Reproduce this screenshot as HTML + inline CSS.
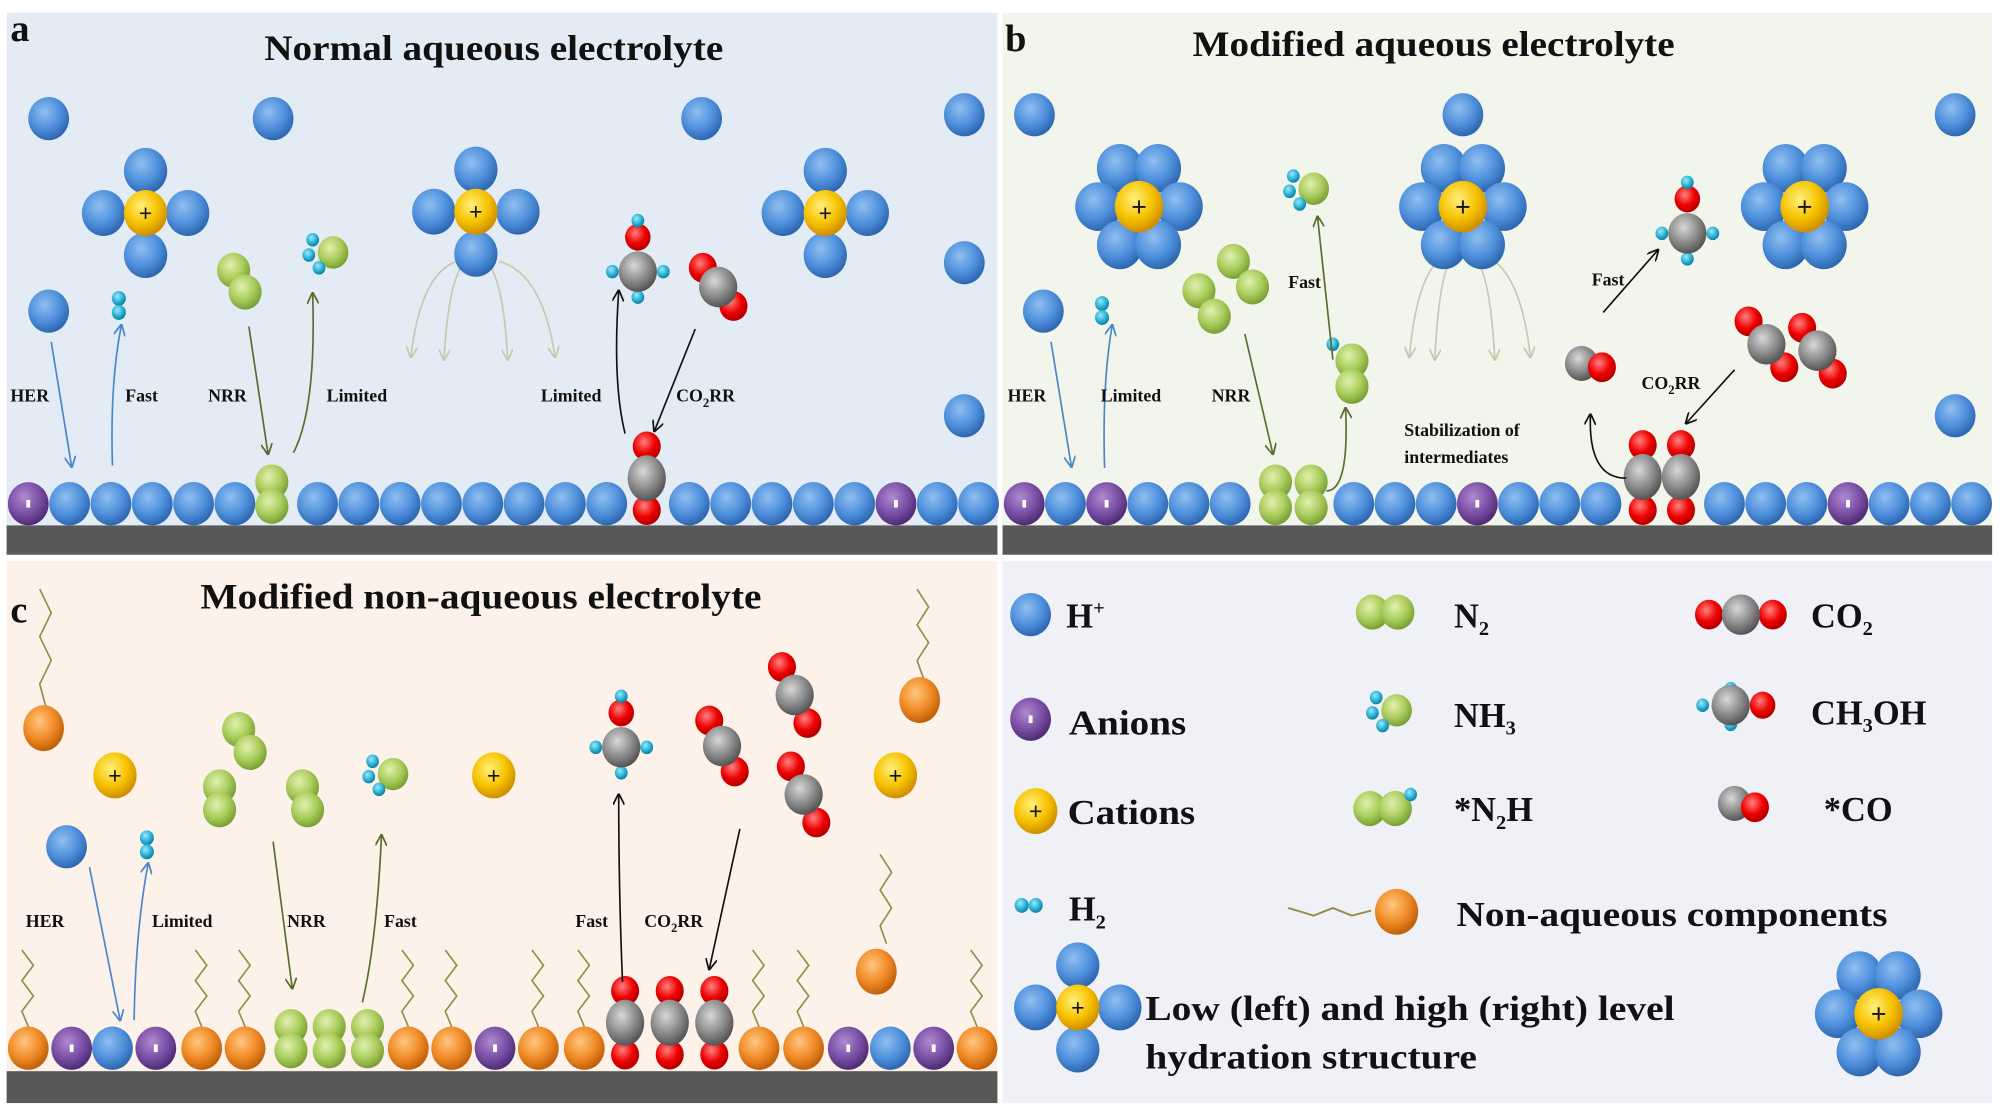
<!DOCTYPE html>
<html><head><meta charset="utf-8"><style>
html,body{margin:0;padding:0;background:#fff;width:2000px;height:1112px;overflow:hidden}
svg{display:block}
text{font-family:"Liberation Serif",serif;font-weight:bold;fill:#111}
</style></head><body>
<svg id="s" width="2000" height="1112" viewBox="0 0 1568 872" xmlns="http://www.w3.org/2000/svg">
<defs>
<radialGradient id="gB" cx="40%" cy="35%" r="65%"><stop offset="0" stop-color="#8fbff0"/><stop offset=".6" stop-color="#4f90dc"/><stop offset="1" stop-color="#2e67b0"/></radialGradient>
<radialGradient id="gP" cx="40%" cy="35%" r="65%"><stop offset="0" stop-color="#b08ad0"/><stop offset=".6" stop-color="#7a4fa5"/><stop offset="1" stop-color="#4f2c75"/></radialGradient>
<radialGradient id="gY" cx="40%" cy="35%" r="65%"><stop offset="0" stop-color="#fff07a"/><stop offset=".6" stop-color="#f6c200"/><stop offset="1" stop-color="#d08e00"/></radialGradient>
<radialGradient id="gG" cx="40%" cy="35%" r="65%"><stop offset="0" stop-color="#e2f0b0"/><stop offset=".6" stop-color="#a8cc5a"/><stop offset="1" stop-color="#7a9f35"/></radialGradient>
<radialGradient id="gR" cx="40%" cy="35%" r="65%"><stop offset="0" stop-color="#ff8080"/><stop offset=".6" stop-color="#ee0000"/><stop offset="1" stop-color="#b00000"/></radialGradient>
<radialGradient id="gK" cx="40%" cy="35%" r="65%"><stop offset="0" stop-color="#d8d8d8"/><stop offset=".6" stop-color="#8a8a8a"/><stop offset="1" stop-color="#555"/></radialGradient>
<radialGradient id="gO" cx="40%" cy="35%" r="65%"><stop offset="0" stop-color="#ffc780"/><stop offset=".6" stop-color="#f08a25"/><stop offset="1" stop-color="#c0600a"/></radialGradient>
<radialGradient id="gC" cx="40%" cy="35%" r="65%"><stop offset="0" stop-color="#9ee8f8"/><stop offset=".6" stop-color="#29b3d8"/><stop offset="1" stop-color="#0e7fa0"/></radialGradient>
<marker id="ab" viewBox="0 0 10 10" refX="9" refY="5" markerWidth="7" markerHeight="7" orient="auto-start-reverse"><path d="M0,0 L10,5 L0,10" fill="none" stroke="#4a86c8" stroke-width="1.5"/></marker>
<marker id="ag" viewBox="0 0 10 10" refX="9" refY="5" markerWidth="7" markerHeight="7" orient="auto-start-reverse"><path d="M0,0 L10,5 L0,10" fill="none" stroke="#5a6a30" stroke-width="1.5"/></marker>
<marker id="ak" viewBox="0 0 10 10" refX="9" refY="5" markerWidth="7" markerHeight="7" orient="auto-start-reverse"><path d="M0,0 L10,5 L0,10" fill="none" stroke="#111" stroke-width="1.5"/></marker>
<marker id="al" viewBox="0 0 10 10" refX="9" refY="5" markerWidth="7" markerHeight="7" orient="auto-start-reverse"><path d="M0,0 L10,5 L0,10" fill="none" stroke="#c8c8b0" stroke-width="1.5"/></marker>
</defs>
<rect x="0" y="0" width="1568" height="872" fill="#fff"/>
<rect x="5" y="10" width="777" height="425" fill="#e3ebf4"/>
<rect x="786" y="10" width="776" height="425" fill="#f2f5ec"/>
<rect x="5" y="440" width="777" height="425" fill="#fcf2ea"/>
<rect x="786" y="440" width="776" height="425" fill="#eff1f6"/>
<rect x="5" y="412" width="777" height="23" fill="#595959"/>
<rect x="786" y="412" width="776" height="23" fill="#595959"/>
<rect x="5" y="840" width="777" height="25" fill="#595959"/>
<g id="shapes"></g>
<g font-size="14">
<text x="8" y="32" font-size="30">a</text>
<text x="207" y="47" font-size="28" textLength="360" lengthAdjust="spacingAndGlyphs">Normal aqueous electrolyte</text>
<text x="788" y="40" font-size="30">b</text>
<text x="935" y="44" font-size="28" textLength="378" lengthAdjust="spacingAndGlyphs">Modified aqueous electrolyte</text>
<text x="8" y="488" font-size="30">c</text>
<text x="157" y="477" font-size="28" textLength="440" lengthAdjust="spacingAndGlyphs">Modified non-aqueous electrolyte</text>
<text x="8" y="315">HER</text><text x="98" y="315">Fast</text><text x="163" y="315">NRR</text><text x="256" y="315">Limited</text>
<text x="424" y="315">Limited</text><text x="530" y="315">CO<tspan font-size="10" dy="4">2</tspan><tspan dy="-4">RR</tspan></text>
<text x="790" y="315">HER</text><text x="863" y="315">Limited</text><text x="950" y="315">NRR</text><text x="1010" y="226">Fast</text>
<text x="1248" y="224">Fast</text><text x="1287" y="305">CO<tspan font-size="10" dy="4">2</tspan><tspan dy="-4">RR</tspan></text>
<text x="1101" y="342">Stabilization of</text><text x="1101" y="363">intermediates</text>
<text x="20" y="727">HER</text><text x="119" y="727">Limited</text><text x="225" y="727">NRR</text><text x="301" y="727">Fast</text>
<text x="451" y="727">Fast</text><text x="505" y="727">CO<tspan font-size="10" dy="4">2</tspan><tspan dy="-4">RR</tspan></text>
</g>
<g font-size="27">
<text x="836" y="492">H<tspan font-size="16" dy="-10">+</tspan></text>
<text x="838" y="576" textLength="92" lengthAdjust="spacingAndGlyphs">Anions</text>
<text x="837" y="646" textLength="100" lengthAdjust="spacingAndGlyphs">Cations</text>
<text x="838" y="722">H<tspan font-size="16" dy="6">2</tspan></text>
<text x="1140" y="492">N<tspan font-size="16" dy="6">2</tspan></text>
<text x="1140" y="570">NH<tspan font-size="16" dy="6">3</tspan></text>
<text x="1140" y="644">*N<tspan font-size="16" dy="6">2</tspan><tspan dy="-6">H</tspan></text>
<text x="1420" y="492">CO<tspan font-size="16" dy="6">2</tspan></text>
<text x="1420" y="568">CH<tspan font-size="16" dy="6">3</tspan><tspan dy="-6">OH</tspan></text>
<text x="1430" y="644">*CO</text>
<text x="1142" y="726" textLength="338" lengthAdjust="spacingAndGlyphs">Non-aqueous components</text>
<text x="898" y="800" textLength="415" lengthAdjust="spacingAndGlyphs">Low (left) and high (right) level</text>
<text x="898" y="838" textLength="260" lengthAdjust="spacingAndGlyphs">hydration structure</text>
</g>
</svg>
<script>
var G=document.getElementById('shapes'),NS='http://www.w3.org/2000/svg';
function el(t,a){var e=document.createElementNS(NS,t);for(var k in a)e.setAttribute(k,a[k]);G.appendChild(e);return e;}
function b(x,y,r,c,ry){return el('ellipse',{cx:x,cy:y,rx:r,ry:ry||r*1.06,fill:'url(#g'+c+')'});}
function txt(x,y,s,fs){var t=el('text',{x:x,y:y+fs*0.35,'text-anchor':'middle','font-size':fs});t.textContent=s;t.setAttribute('style','font-family:Liberation Sans,sans-serif;font-weight:normal');}
function cat(x,y,r){b(x,y,r||17,'Y');txt(x,y,'+',r?r*1.1:18);}
function an(x,y){b(x,y,16,'P');el('rect',{x:x-1.5,y:y-3,width:3,height:6,fill:'#fff'});}
function hyd(x,y,high){if(!high){b(x,y-33,17,'B');b(x-33,y,17,'B');b(x+33,y,17,'B');b(x,y+33,17,'B');cat(x,y);}
 else{var d=[[-15,-30],[15,-30],[-32,0],[32,0],[-15,30],[15,30]];d.forEach(function(p){b(x+p[0],y+p[1],18,'B');});cat(x,y,19);}}
function h2(x,y){b(x,y-6,5.5,'C');b(x,y+5,5.5,'C');}
function n2(x,y,dx,dy){b(x,y,13,'G');b(x+dx,y+dy,13,'G');}
function nh3(x,y){b(x+8,y,12,'G');b(x-8,y-10,5,'C');b(x-11,y+2,5,'C');b(x-3,y+12,5,'C');}
function ch3oh(x,y){b(x,y-27,10,'R');b(x,y-40,5,'C');b(x-20,y,5,'C');b(x+20,y,5,'C');b(x,y+20,5,'C');b(x,y,15,'K');}
function co2(x,y,dx,dy){b(x-dx,y-dy,11,'R');b(x+dx,y+dy,11,'R');b(x,y,15,'K');}
function co(x,y){b(x,y,13,'K');b(x+16,y+3,11,'R');}
function ar(x1,y1,x2,y2,m,c,cx,cy){var d=cx!==undefined?'M'+x1+','+y1+' Q'+cx+','+cy+' '+x2+','+y2:'M'+x1+','+y1+' L'+x2+','+y2;
 el('path',{d:d,fill:'none',stroke:c,'stroke-width':1.3,'marker-end':'url(#'+m+')'});}
function zig(x,y,h){var p='M'+x+','+y,n=5;for(var i=1;i<=n;i++){p+=' L'+(x+(i%2?-5:4))+','+(y-h*i/n);}el('path',{d:p,fill:'none',stroke:'#9a8a4a','stroke-width':1.3});}
function surf(y,list){list.forEach(function(s){var x=s[0],t=s[1];
 if(t=='B')b(x,y,16,'B',17);else if(t=='P')an(x,y);else if(t=='O')b(x,y,16,'O',17);
 else if(t=='G'){b(x,y-17,13,'G');b(x,y+2,13,'G');}
 else if(t=='C'){b(x,y-45,11,'R');b(x,y+5,11,'R');b(x,y-20,15,'K',18);}});}
function fan(cx,top,pts){pts.forEach(function(p){ar(cx+(p[0]-cx)*0.3,top,p[0],p[1],'al','#c8c8b0',p[0]+(cx-p[0])*0.15,top+10);});}
// panel a
var A=[];for(var i=0;i<24;i++){var x=22+i*32.4;var t='B';if(i==0||i==21)t='P';A.push([x,t]);}
A=A.filter(function(s){return Math.abs(s[0]-213)>14&&Math.abs(s[0]-507)>14;});
surf(395,A);b(213,378,13,'G');b(213,397,13,'G');b(507,350,11,'R');b(507,400,11,'R');b(507,375,15,'K',18);
[[38,93],[214,93],[550,93],[756,90],[38,244],[756,206],[756,326]].forEach(function(p){b(p[0],p[1],16,'B');});
fan(373,205,[[322,280],[348,282],[398,282],[435,280]]);
hyd(114,167);hyd(373,166);hyd(647,167);
h2(93,240);n2(183,212,9,17);nh3(253,198);ch3oh(500,213);co2(563,225,-12,-15);
ar(40,268,56,366,'ab','#4a86c8');ar(88,365,95,255,'ab','#4a86c8',86,300);
ar(195,256,210,356,'ag','#5a6a30');ar(230,355,245,230,'ag','#5a6a30',248,320);
ar(490,340,485,228,'ak','#111',480,300);ar(545,258,513,338,'ak','#111');
// panel b
var B=[];for(var i=0;i<24;i++){var x=803+i*32.3;var t='B';if([0,2,11,20].indexOf(i)>=0)t='P';B.push([x,t]);}
B=B.filter(function(s){return !(s[0]>985&&s[0]<1045)&&!(s[0]>1272&&s[0]<1332);});
surf(395,B);b(1000,378,13,'G');b(1000,398,13,'G');b(1028,378,13,'G');b(1028,398,13,'G');
[1288,1318].forEach(function(x){b(x,349,11,'R');b(x,400,11,'R');b(x,374,15,'K',18);});
[[811,90],[1147,90],[1533,90],[818,244],[1533,326]].forEach(function(p){b(p[0],p[1],16,'B');});
fan(1147,200,[[1105,280],[1125,282],[1172,282],[1200,280]]);
hyd(893,162,1);hyd(1147,162,1);hyd(1415,162,1);
h2(864,244);n2(967,205,15,20);n2(940,228,12,20);nh3(1022,148);
b(1060,283,13,'G');b(1060,303,13,'G');b(1045,270,5,'C');
ch3oh(1323,183);co(1240,285);co2(1385,270,-14,-18);co2(1425,275,-12,-18);
ar(824,268,840,366,'ab','#4a86c8');ar(866,367,872,255,'ab','#4a86c8',864,300);
ar(976,262,998,356,'ag','#5a6a30');ar(1040,385,1055,320,'ag','#5a6a30',1058,385);ar(1045,282,1033,170,'ag','#5a6a30');
ar(1257,245,1300,196,'ak','#111');ar(1360,290,1322,332,'ak','#111');ar(1275,375,1247,325,'ak','#111',1245,375);
// panel c
var C=[[22,'O'],[56,'P'],[88,'B'],[122,'P'],[158,'O'],[192,'O'],[228,'G'],[258,'G'],[288,'G'],[320,'O'],[354,'O'],[388,'P'],[422,'O'],[458,'O'],[490,'C'],[525,'C'],[560,'C'],[595,'O'],[630,'O'],[665,'P'],[698,'B'],[732,'P'],[766,'O']];
surf(822,C);
[22,158,192,320,354,422,458,595,630,766].forEach(function(x){zig(x,805,60);});
zig(36,555,93);zig(724,532,70);zig(695,740,70);
b(34,571,16,'O',18);b(721,549,16,'O',18);b(687,762,16,'O',18);
cat(90,608);cat(387,608);cat(702,608);
b(52,664,16,'B');h2(115,663);
n2(187,572,9,18);n2(172,617,0,18);n2(237,617,4,18);nh3(300,607);
ch3oh(487,586);co2(566,585,-10,-20);co2(623,545,-10,-22);co2(630,623,-10,-22);
ar(70,680,94,800,'ab','#4a86c8');ar(105,800,116,677,'ab','#4a86c8',106,730);
ar(214,660,229,775,'ag','#5a6a30');ar(284,786,299,655,'ag','#5a6a30',295,740);
ar(488,770,485,623,'ak','#111',485,700);ar(580,650,556,760,'ak','#111');
// legend
b(808,482,16,'B');an(808,564);cat(812,636);
b(801,710,5.5,'C');b(812,710,5.5,'C');
n2(1076,480,20,0);nh3(1087,557);b(1074,634,13,'G');b(1094,634,13,'G');b(1106,623,5,'C');
co2(1365,482,-25,0);
b(1357,540,5,'C');b(1335,553,5,'C');b(1357,568,5,'C');b(1357,553,15,'K');b(1382,553,10,'R');
co(1360,630);
el('path',{d:'M1010,712 L1030,718 L1045,712 L1060,718 L1075,714',fill:'none',stroke:'#9a8a4a','stroke-width':1.5});b(1095,715,17,'O',18);
hyd(845,790);hyd(1473,795,1);
</script>
</body></html>
